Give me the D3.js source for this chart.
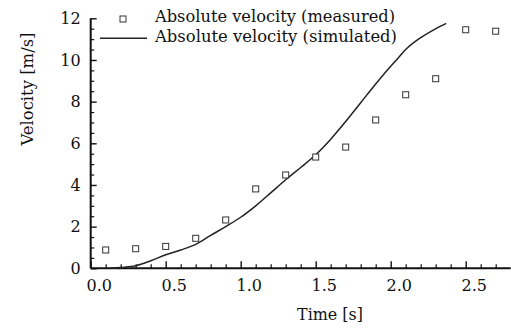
<!DOCTYPE html>
<html>
<head>
<meta charset="utf-8">
<script src="https://cdn.jsdelivr.net/npm/d3@7"></script>
<style>
  body { margin: 0; background: #fff; }
  text { font-family: "DejaVu Serif", serif; fill: #111; }
</style>
</head>
<body>
<div id="chart"></div>
<script>
// measured points
const measuredTime = [0.1, 0.3, 0.5, 0.7, 0.9, 1.1, 1.3, 1.5, 1.7, 1.9, 2.1, 2.3, 2.5, 2.7];
const measuredVel = [0.88, 0.94, 1.05, 1.44, 2.32, 3.81, 4.48, 5.34, 5.82, 7.12, 8.33, 9.10, 11.45, 11.38];

// simulated curve
const simTime = [0.13, 0.2, 0.3, 0.4, 0.5, 0.6, 0.7, 0.8, 0.9, 1.0, 1.1, 1.2, 1.3, 1.4, 1.5, 1.6, 1.7, 1.8, 1.9, 2.0, 2.05, 2.1, 2.2, 2.3, 2.37];
const simVel = [0, 0.04, 0.12, 0.36, 0.65, 0.88, 1.15, 1.58, 2.0, 2.45, 3.0, 3.62, 4.25, 4.84, 5.45, 6.2, 7.05, 7.95, 8.85, 9.7, 10.1, 10.5, 11.07, 11.5, 11.76];

const xMajor = [0, 0.5, 1.0, 1.5, 2.0, 2.5];
const yMajor = [0, 2, 4, 6, 8, 10, 12];
const legendLabels = ["Absolute velocity (measured)", "Absolute velocity (simulated)"];

const width = 511, height = 329;
const font = "'DejaVu Serif', serif";

const svg = d3.select("#chart").append("svg")
    .attr("width", width)
    .attr("height", height);

const x = d3.scaleLinear().domain([0, 2.8]).range([90.7, 510.7]);
const y = d3.scaleLinear().domain([0, 12]).range([268.3, 18.3]);

// minor ticks
const xMinor = d3.range(0, 28).map(i => i / 10).filter(v => !xMajor.some(m => Math.abs(m - v) < 1e-6));
const yMinor = d3.range(0, 24).map(i => i / 2).filter(v => !yMajor.includes(v));

svg.append("g")
    .attr("transform", `translate(0,${y(0)})`)
    .call(d3.axisBottom(x).tickValues(xMinor).tickSize(-4).tickSizeOuter(0).tickFormat(""))
    .call(g => g.select(".domain").remove())
    .selectAll("line").attr("stroke", "#111").attr("stroke-width", 1.2);

svg.append("g")
    .attr("transform", `translate(${x(0)},0)`)
    .call(d3.axisLeft(y).tickValues(yMinor).tickSize(-3.5).tickSizeOuter(0).tickFormat(""))
    .call(g => g.select(".domain").remove())
    .selectAll("line").attr("stroke", "#111").attr("stroke-width", 1.2);

// major x axis
const xAxis = svg.append("g")
    .attr("transform", `translate(0,${y(0)})`)
    .call(d3.axisBottom(x).tickValues(xMajor).tickSize(-7).tickSizeOuter(0).tickFormat(d3.format(".1f")));
xAxis.select(".domain").attr("stroke", "#111").attr("stroke-width", 2)
    .attr("d", `M${x(0)},0H${x(2.8)}`);
xAxis.selectAll("line").attr("stroke", "#111").attr("stroke-width", 1.4);
xAxis.selectAll("text")
    .attr("y", 11)
    .attr("dx", 8)
    .attr("dy", "0.71em")
    .style("font-size", "16px")
    .style("font-family", font)
    .attr("fill", "#111");

// major y axis
const yAxis = svg.append("g")
    .attr("transform", `translate(${x(0)},0)`)
    .call(d3.axisLeft(y).tickValues(yMajor).tickSize(-6).tickSizeOuter(0).tickFormat(d3.format("d")));
yAxis.select(".domain").attr("stroke", "#111").attr("stroke-width", 2)
    .attr("d", `M0,${y(0)}V${y(12)}`);
yAxis.selectAll("line").attr("stroke", "#111").attr("stroke-width", 1.4);
yAxis.selectAll("text")
    .attr("x", -10)
    .style("font-size", "16px")
    .style("font-family", font)
    .attr("fill", "#111");

// simulated line
const simData = simTime.map((t, i) => ({t: t, v: simVel[i]}));
const line = d3.line()
    .x(d => x(d.t))
    .y(d => y(d.v))
    .curve(d3.curveMonotoneX);

svg.append("path")
    .datum(simData)
    .attr("d", line)
    .attr("fill", "none")
    .attr("stroke", "#222")
    .attr("stroke-width", 1.5);

// measured squares
const ms = 6;
svg.selectAll(".meas")
    .data(measuredTime.map((t, i) => ({t: t, v: measuredVel[i]})))
    .enter()
    .append("rect")
    .attr("class", "meas")
    .attr("x", d => x(d.t) - ms / 2)
    .attr("y", d => y(d.v) - ms / 2)
    .attr("width", ms)
    .attr("height", ms)
    .attr("fill", "white")
    .attr("stroke", "#333")
    .attr("stroke-width", 1);

// axis titles
svg.append("text")
    .attr("x", 330)
    .attr("y", 320)
    .attr("text-anchor", "middle")
    .attr("textLength", 66)
    .attr("lengthAdjust", "spacingAndGlyphs")
    .style("font-size", "17px")
    .text("Time [s]");

svg.append("text")
    .attr("transform", "translate(33,89) rotate(-90)")
    .attr("text-anchor", "middle")
    .attr("textLength", 113)
    .attr("lengthAdjust", "spacingAndGlyphs")
    .style("font-size", "17px")
    .text("Velocity [m/s]");

// legend
const legend = svg.append("g");
legend.append("rect")
    .attr("x", 123 - ms / 2)
    .attr("y", 19 - ms / 2)
    .attr("width", ms)
    .attr("height", ms)
    .attr("fill", "white")
    .attr("stroke", "#333")
    .attr("stroke-width", 1);
legend.append("line")
    .attr("x1", 100).attr("x2", 147)
    .attr("y1", 38.3).attr("y2", 38.3)
    .attr("stroke", "#222")
    .attr("stroke-width", 1.5);
legend.selectAll(".leg-label")
    .data(legendLabels)
    .enter()
    .append("text")
    .attr("class", "leg-label")
    .attr("x", 155)
    .attr("y", (d, i) => 22 + i * 20)
    .attr("textLength", (d, i) => i == 0 ? 240 : 242)
    .attr("lengthAdjust", "spacingAndGlyphs")
    .style("font-size", "17px")
    .text(d => d);
</script>
</body>
</html>
